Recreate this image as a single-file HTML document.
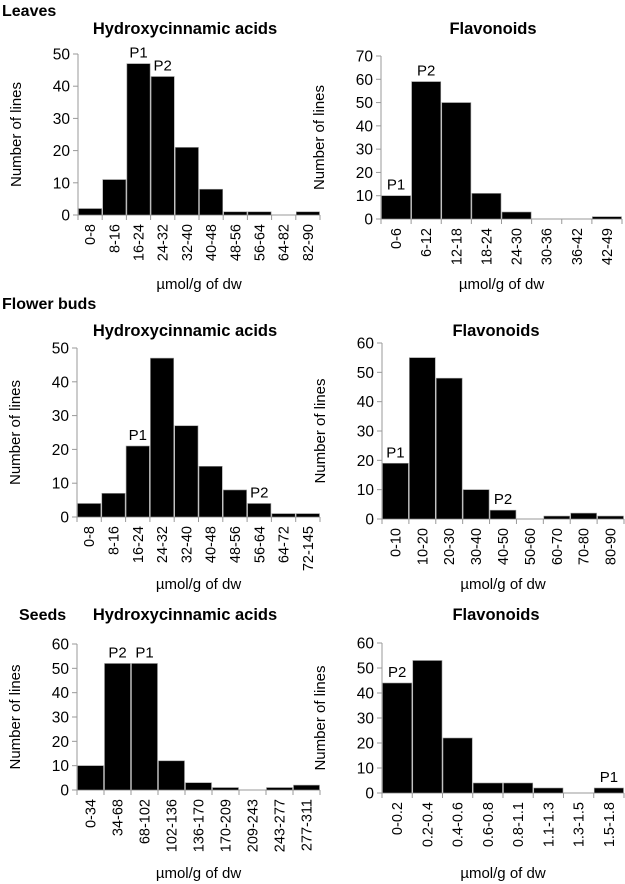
<!DOCTYPE html>
<html><head><meta charset="utf-8"><style>
body{margin:0;background:#fff;width:625px;height:884px;overflow:hidden}
svg{display:block;font-family:"Liberation Sans",sans-serif}
</style></head><body>
<svg id="fig" width="625" height="884">
<text x="2" y="16" font-size="16" font-weight="bold">Leaves</text>
<text x="2" y="309" font-size="16" font-weight="bold">Flower buds</text>
<text x="19" y="620" font-size="16" font-weight="bold">Seeds</text>
</svg>
<script>
const cats1=["0-8","8-16","16-24","24-32","32-40","40-48","48-56","56-64","64-82","82-90"];
const vals1=[2,11,47,43,21,8,1,1,0,1];
const ticks1=[0,10,20,30,40,50];
const cats2=["0-6","6-12","12-18","18-24","24-30","30-36","36-42","42-49"];
const vals2=[10,59,50,11,3,0,0,1];
const ticks2=[0,10,20,30,40,50,60,70];
const cats3=["0-8","8-16","16-24","24-32","32-40","40-48","48-56","56-64","64-72","72-145"];
const vals3=[4,7,21,47,27,15,8,4,1,1];
const ticks3=[0,10,20,30,40,50];
const cats4=["0-10","10-20","20-30","30-40","40-50","50-60","60-70","70-80","80-90"];
const vals4=[19,55,48,10,3,0,1,2,1];
const ticks4=[0,10,20,30,40,50,60];
const cats5=["0-34","34-68","68-102","102-136","136-170","170-209","209-243","243-277","277-311"];
const vals5=[10,52,52,12,3,1,0,1,2];
const ticks5=[0,10,20,30,40,50,60];
const cats6=["0-0.2","0.2-0.4","0.4-0.6","0.6-0.8","0.8-1.1","1.1-1.3","1.3-1.5","1.5-1.8"];
const vals6=[44,53,22,4,4,2,0,2];
const ticks6=[0,10,20,30,40,50,60];

const svg=document.getElementById('fig');
const NS='http://www.w3.org/2000/svg';
function mk(tag,attrs,parent){const e=document.createElementNS(NS,tag);for(const k in attrs)e.setAttribute(k,attrs[k]);(parent||svg).appendChild(e);return e;}

function chart(id,title,titleX,titleY,x0,x1,yb,yt,cats,vals,ticks,peaks,xtY){
  const g=mk('g',{});
  
  
  const max=ticks[ticks.length-1];
  const y=v=>yb-(v/max)*(yb-yt);
  const bw=(x1-x0)/cats.length;
  const xb=i=>x0+i*bw;
  const t=mk('text',{x:titleX,y:titleY,'font-size':16.5,'font-weight':'bold','text-anchor':'middle'},g);
  t.textContent=title;
  
  
  ticks.forEach(v=>{
    mk('line',{x1:x0-5,x2:x0,y1:y(v),y2:y(v),stroke:'#999'},g);
    const tl=mk('text',{x:x0-8,y:y(v)+5.5,'font-size':15.5,'text-anchor':'end'},g);
    tl.textContent=v;
    
    
  });
  mk('line',{x1:x0,x2:x0,y1:yt,y2:yb,stroke:'#999'},g);
  mk('line',{x1:x0,x2:x1,y1:yb,y2:yb,stroke:'#999'},g);
  vals.forEach((v,i)=>{
    const r=mk('rect',{x:xb(i)+0.5,y:y(v),width:bw-1,height:yb-y(v),fill:'#000',stroke:'#999','stroke-width':0.6},g);
    
    
  });
  for(let i=0;i<=cats.length;i++) mk('line',{x1:xb(i),x2:xb(i),y1:yb,y2:yb+5,stroke:'#999'},g);
  cats.forEach((c,i)=>{
    const cx=xb(i)+bw/2+5, cy=yb+9;
    const tl=mk('text',{x:cx,y:cy,'font-size':14.5,'text-anchor':'end',transform:`rotate(-90 ${cx} ${cy})`},g);
    tl.textContent=c;
    
    
  });
  peaks.forEach(([lab,i])=>{
    const p=mk('text',{x:xb(i)+bw/2,y:y(vals[i])-6,'font-size':15,'text-anchor':'middle'},g);
    p.textContent=lab;
    
    
  });
  const yl=(x0-57), ym=(yb+yt)/2;
  const ya=mk('text',{x:yl,y:ym,'font-size':15,'text-anchor':'middle',transform:`rotate(-90 ${yl} ${ym})`},g);
  ya.textContent='Number of lines';
  
  
  const xa=mk('text',{x:(x0+x1)/2,y:xtY,'font-size':15,'text-anchor':'middle'},g);
  xa.textContent='µmol/g of dw';
  
  
}
chart('leaves-hca-chart','Hydroxycinnamic acids',185,34,78,320,215,54,cats1,vals1,ticks1,[['P1',2],['P2',3]],289);
chart('leaves-flavonoid-chart','Flavonoids',493,34,381,622,219,56,cats2,vals2,ticks2,[['P1',0],['P2',1]],289);
chart('buds-hca-chart','Hydroxycinnamic acids',185,336,77,320,517,348,cats3,vals3,ticks3,[['P1',2],['P2',7]],589);
chart('buds-flavonoid-chart','Flavonoids',496,336,382,624,519,343,cats4,vals4,ticks4,[['P1',0],['P2',4]],589);
chart('seeds-hca-chart','Hydroxycinnamic acids',185,620,77,320,790,644,cats5,vals5,ticks5,[['P2',1],['P1',2]],878);
chart('seeds-flavonoid-chart','Flavonoids',496,620,382,624,793,643,cats6,vals6,ticks6,[['P2',0],['P1',7]],878);
</script>
</body></html>
